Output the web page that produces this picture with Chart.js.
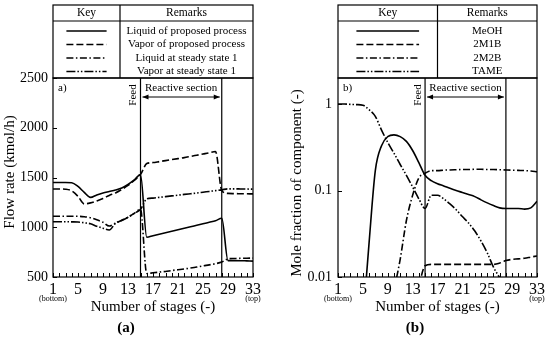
<!DOCTYPE html>
<html>
<head>
<meta charset="utf-8">
<script src="https://cdn.jsdelivr.net/npm/chart.js@4.4.0/dist/chart.umd.min.js"></script>
<style>
body{margin:0;background:#fff;width:550px;height:342px;overflow:hidden}
canvas{position:absolute;top:0}
</style>
</head>
<body>
<canvas id="nchart" width="275" height="342" style="left:0"></canvas>
<canvas id="nchart2" width="275" height="342" style="left:275px"></canvas>
<script>
// stages, bottom (1) to top (33)
let stages = [1,2,3,4,5,6,7,8,9,10,11,12,13,14,15,16,17,18,19,20,21,22,23,24,25,26,27,28,29,30,31,32,33]
let feedStage = 15
let reactiveTop = 28

// (a) flow rates, kmol/h
let liqProposed = [1450,1450,1450,1448,1410,1350,1300,1325,1345,1360,1375,1395,1430,1475,1530,900,915,930,945,960,975,990,1005,1020,1035,1050,1065,1090,665,665,664,662,660]
let vapProposed = [1385,1385,1382,1365,1310,1235,1245,1265,1290,1320,1345,1380,1420,1470,1530,1640,1650,1660,1670,1680,1690,1700,1712,1724,1736,1748,1762,1370,1340,1338,1337,1336,1335]
let liqSS1 = [1110,1110,1110,1110,1110,1106,1095,1075,1050,1012,1040,1070,1100,1140,1180,535,542,549,556,565,573,581,590,600,612,622,634,650,682,686,688,689,690]
let vapSS1 = [1055,1055,1055,1054,1052,1045,1035,1010,990,972,1040,1068,1100,1140,1180,1285,1293,1300,1308,1315,1322,1330,1337,1344,1352,1360,1368,1376,1386,1386,1385,1384,1383]
let flowTicks = [500,1000,1500,2000,2500]

// (b) mole fractions
let meoh = [null,null,null,null,0.003,0.025,0.17,0.33,0.42,0.44,0.42,0.37,0.29,0.21,0.15,0.13,0.12,0.113,0.106,0.1,0.095,0.09,0.085,0.078,0.072,0.067,0.063,0.062,0.062,0.062,0.061,0.063,0.075]
let m1b = [null,null,null,null,null,null,null,null,null,null,null,null,null,0.008,0.0135,0.014,0.014,0.014,0.014,0.014,0.014,0.014,0.014,0.014,0.014,0.014,0.0145,0.0155,0.016,0.0162,0.0165,0.017,0.0175]
let m2b = [null,null,null,null,null,null,null,null,null,0.007,0.016,0.045,0.088,0.14,0.158,0.17,0.17,0.172,0.173,0.174,0.175,0.175,0.176,0.176,0.175,0.175,0.174,0.173,0.172,0.171,0.17,0.168,0.165]
let tame = [1.0,1.0,0.99,0.985,0.97,0.86,0.72,0.5,0.36,0.27,0.2,0.15,0.11,0.08,0.062,0.088,0.088,0.08,0.07,0.06,0.05,0.042,0.034,0.026,0.019,0.013,0.0098,null,null,null,null,null,null]
let fracTicks = [0.01,0.1,1]

let solid = []
let dash = [7,3]
let dashDot = [7,2.5,1.5,2.5]
let dashDotDot = [9,2,1.5,2,1.5,2]

Chart.defaults.font.family = '"Liberation Serif", serif'
Chart.defaults.color = '#000'

function line(label, data, pattern){
    return {
        label: label,
        data: data,
        borderColor: '#000',
        borderWidth: 1.6,
        borderDash: pattern,
        pointRadius: 0,
        fill: false,
        cubicInterpolationMode: 'monotone'
    }
}

// table key, marker lines, frame and labels drawn round the plot
const deco = {
    id: 'deco',
    afterDraw(chart, args, o){
        let ctx = chart.ctx
        let a = chart.chartArea
        let xs = chart.scales.x
        let ys = chart.scales.y
        ctx.save()
        ctx.strokeStyle = '#000'
        ctx.fillStyle = '#000'
        ctx.setLineDash([])

        ctx.lineWidth = 1.2
        ctx.strokeRect(a.left, a.top, a.right - a.left, a.bottom - a.top)

        ctx.lineWidth = 1
        ctx.beginPath()
        for(let s = xs.min; s <= xs.max; s++){
            let px = Math.round(xs.getPixelForValue(s)) + 0.5
            ctx.moveTo(px, a.bottom)
            ctx.lineTo(px, a.bottom - 4)
        }
        ys.ticks.forEach(t => {
            let py = Math.round(ys.getPixelForValue(t.value)) + 0.5
            ctx.moveTo(a.left, py)
            ctx.lineTo(a.left + 4, py)
        })
        ctx.stroke()

        let fx = xs.getPixelForValue(feedStage)
        let rx = xs.getPixelForValue(reactiveTop)
        ctx.lineWidth = 1.2
        ctx.beginPath()
        ctx.moveTo(fx, a.top); ctx.lineTo(fx, a.bottom)
        ctx.moveTo(rx, a.top); ctx.lineTo(rx, a.bottom)
        ctx.stroke()

        ctx.font = '11px "Liberation Serif"'
        ctx.textBaseline = 'middle'
        ctx.textAlign = 'left'
        ctx.fillText(o.tag, a.left + 5, a.top + 10)
        ctx.textAlign = 'center'
        ctx.fillText('Reactive section', (fx + rx) / 2, a.top + 10)

        // double arrow
        let ay = a.top + 19
        ctx.lineWidth = 1
        ctx.beginPath()
        ctx.moveTo(fx + 2, ay); ctx.lineTo(rx - 2, ay)
        ctx.stroke()
        ctx.beginPath()
        ctx.moveTo(fx + 2, ay); ctx.lineTo(fx + 8, ay - 2.5); ctx.lineTo(fx + 8, ay + 2.5); ctx.closePath()
        ctx.moveTo(rx - 2, ay); ctx.lineTo(rx - 8, ay - 2.5); ctx.lineTo(rx - 8, ay + 2.5); ctx.closePath()
        ctx.fill()

        ctx.save()
        ctx.translate(fx - 7, a.top + 17)
        ctx.rotate(-Math.PI / 2)
        ctx.fillText('Feed', 0, 0)
        ctx.restore()

        // key table
        let top = 5, head = 21
        let kx = a.left + (a.right - a.left) * o.keyFrac
        ctx.lineWidth = 1.2
        ctx.strokeRect(a.left, top, a.right - a.left, a.top - top)
        ctx.beginPath()
        ctx.moveTo(a.left, head); ctx.lineTo(a.right, head)
        ctx.moveTo(kx, top); ctx.lineTo(kx, a.top)
        ctx.stroke()
        ctx.font = '11.5px "Liberation Serif"'
        ctx.fillText('Key', (a.left + kx) / 2, 13)
        ctx.fillText('Remarks', (kx + a.right) / 2, 13)
        ctx.font = '11px "Liberation Serif"'
        let rows = [31, 44.5, 58, 71.5]
        let kc = (a.left + kx) / 2
        let kw = (kx - a.left) * o.sampleFrac / 2
        chart.data.datasets.forEach((d, i) => {
            ctx.lineWidth = 1.6
            ctx.setLineDash(d.borderDash)
            ctx.beginPath()
            ctx.moveTo(kc - kw, rows[i]); ctx.lineTo(kc + kw, rows[i])
            ctx.stroke()
            ctx.setLineDash([])
            ctx.fillText(d.label, (kx + a.right) / 2, rows[i])
        })

        // axis titles and notes
        ctx.font = '15px "Liberation Serif"'
        ctx.fillText('Number of stages (-)', (a.left + a.right) / 2, 307)
        ctx.save()
        ctx.translate(o.yTitleX, o.yTitleY)
        ctx.rotate(-Math.PI / 2)
        ctx.fillText(o.yTitle, 0, 0)
        ctx.restore()
        ctx.font = '8px "Liberation Serif"'
        ctx.fillText('(bottom)', a.left, 299)
        ctx.fillText('(top)', a.right, 299)
        ctx.font = 'bold 15px "Liberation Serif"'
        ctx.fillText(o.caption, o.captionX, 328)
        ctx.restore()
    }
}

function panel(id, datasets, yScale, deco_opts, padRight, yWidth){
    let ctx = document.getElementById(id)
    return new Chart(ctx, {
        type: 'line',
        data: { labels: stages, datasets: datasets },
        options: {
            responsive: false,
            animation: false,
            layout: { padding: { top: 78, right: padRight, left: 0, bottom: 0 } },
            plugins: { legend: { display: false }, tooltip: { enabled: false }, deco: deco_opts },
            scales: {
                x: {
                    type: 'linear', min: 1, max: 33,
                    grid: { display: false, drawTicks: false },
                    border: { display: false },
                    ticks: { stepSize: 4, autoSkip: false, maxRotation: 0, padding: 3, font: { size: 16 } },
                    afterFit: s => { s.height = 65 }
                },
                y: Object.assign({
                    grid: { display: false, drawTicks: false },
                    border: { display: false },
                    afterFit: s => { s.width = yWidth }
                }, yScale)
            }
        },
        plugins: [deco]
    })
}

panel('nchart', [
    line('Liquid of proposed process', liqProposed, solid),
    line('Vapor of proposed process', vapProposed, dash),
    line('Liquid at steady state 1', liqSS1, dashDot),
    line('Vapor at steady state 1', vapSS1, dashDotDot)
], {
    type: 'linear', min: 500, max: 2500,
    afterBuildTicks: s => { s.ticks = flowTicks.map(v => ({ value: v })) },
    ticks: { padding: 5, font: { size: 14 }, callback: v => String(v) }
}, { tag: 'a)', keyFrac: 0.335, sampleFrac: 0.6, yTitle: 'Flow rate (kmol/h)', yTitleX: 10, yTitleY: 172, caption: '(a)', captionX: 126 }, 22, 53)

panel('nchart2', [
    line('MeOH', meoh, solid),
    line('2M1B', m1b, dash),
    line('2M2B', m2b, dashDot),
    line('TAME', tame, dashDotDot)
], {
    type: 'logarithmic', min: 0.01, max: 2,
    afterBuildTicks: s => { s.ticks = fracTicks.map(v => ({ value: v })) },
    ticks: { padding: 6, font: { size: 14 }, callback: v => String(v) }
}, { tag: 'b)', keyFrac: 0.5, sampleFrac: 0.63, yTitle: 'Mole fraction of component (-)', yTitleX: 22, yTitleY: 183, caption: '(b)', captionX: 140 }, 13, 63)
</script>
</body>
</html>
